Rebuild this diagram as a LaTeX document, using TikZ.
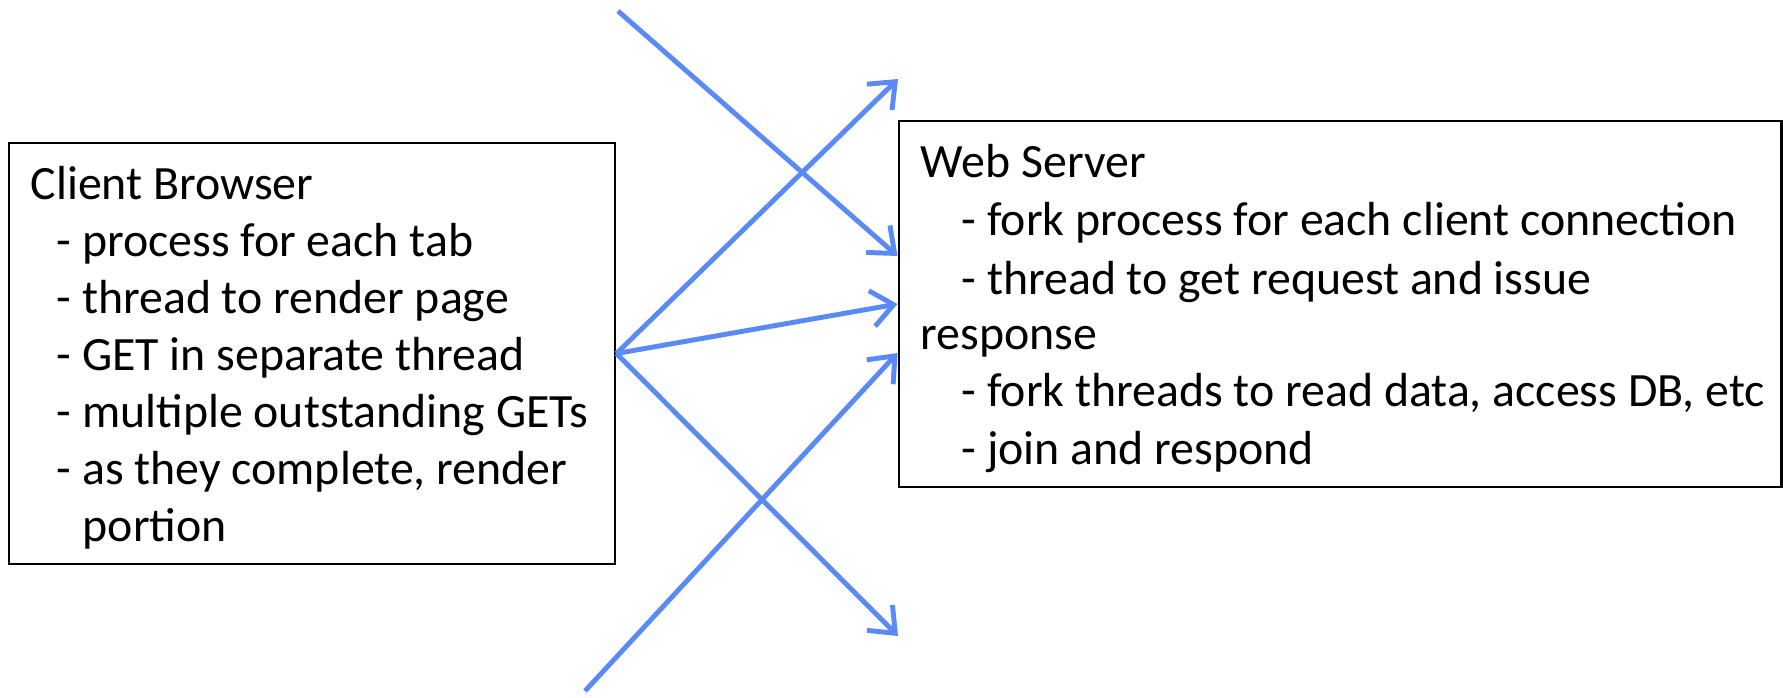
\documentclass[tikz,border=0pt]{standalone}
\usepackage{fontspec}
\setmainfont{Carlito}
\usepackage{tikz}
\usetikzlibrary{arrows.meta, positioning}

\definecolor{linkblue}{RGB}{90,138,245}

\begin{document}
\begin{tikzpicture}[
        x=0.01cm, y=-0.01cm,
        box/.style={rectangle, draw=black, line width=0.7pt, inner sep=0pt},
        txt/.style={anchor=base west, inner sep=0pt, font=\fontsize{13.6}{16}\selectfont},
        link/.style={draw=linkblue, line width=1.4pt, -{Straight Barb[length=2.2mm, width=3.6mm, line width=1.4pt]}}
    ]
        \useasboundingbox (0,0) rectangle (1783,697);

        % the two boxes
        \node[box, minimum width=6.06cm, minimum height=4.21cm] (client) at (312,353.5) {};
        \node[box, minimum width=8.82cm, minimum height=3.66cm] (server) at (1340,304) {};

        % client text
        \node[txt] (c0) at (30,199) {Client Browser};
        \node[txt] (c1) at (56,256) {- process for each tab};
        \node[txt] (c2) at (56,313) {- thread to render page};
        \node[txt] (c3) at (56,370) {- GET in separate thread};
        \node[txt] (c4) at (56,427) {- multiple outstanding GETs};
        \node[txt] (c5) at (56,484) {- as they complete, render};
        \node[txt] (c6) at (82,541) {portion};

        % server text
        \node[txt] (s0) at (920,177) {Web Server};
        \node[txt] (s1) at (961,235) {- fork process for each client connection};
        \node[txt] (s2) at (961,294) {- thread to get request and issue};
        \node[txt] (s3) at (920,349) {response};
        \node[txt] (s4) at (961,406) {- fork threads to read data, access DB, etc};
        \node[txt] (s5) at (961,464) {- join and respond};

        % free ends
        \coordinate (topin) at (618,11);
        \coordinate (botin) at (585,691);
        \coordinate (hiout) at (898,79);
        \coordinate (loout) at (898,636);

        \draw[link] (client.east) -- (hiout);
        \draw[link] (client.east) -- (server.west);
        \draw[link] (client.east) -- (loout);
        \draw[link] (topin) -- ([yshift=0.48cm]server.west);
        \draw[link] (botin) -- ([yshift=-0.49cm]server.west);
    \end{tikzpicture}
\end{document}
